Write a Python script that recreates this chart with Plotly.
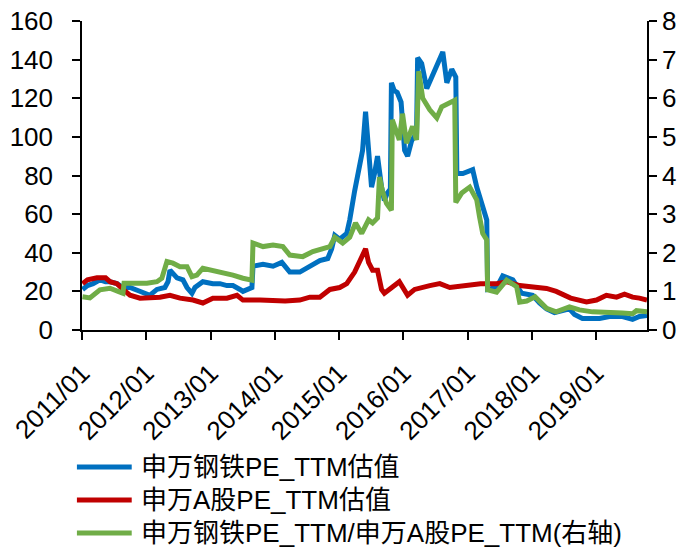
import plotly.graph_objects as go

steel_dates = ["2011-01-04","2011-02-01","2011-03-05","2011-04-13","2011-05-15","2011-06-09","2011-07-19","2011-08-22","2011-10-01","2011-11-27",
"2012-01-05","2012-01-22","2012-03-02","2012-04-16","2012-05-04","2012-05-10","2012-05-15","2012-06-24","2012-07-28","2012-08-20","2012-09-17","2012-10-04","2012-11-18",
"2013-01-14","2013-02-23","2013-04-04","2013-05-08","2013-06-17","2013-07-04","2013-08-24","2013-08-30","2013-10-26","2013-12-22",
"2014-02-10","2014-03-27","2014-05-23","2014-07-19","2014-09-14","2014-10-29","2014-11-20","2014-12-08",
"2015-01-05","2015-02-14","2015-03-03","2015-03-31","2015-04-28","2015-05-15","2015-06-01","2015-06-13","2015-07-05","2015-07-22","2015-08-08","2015-08-31","2015-09-16","2015-10-03","2015-10-20","2015-10-26","2015-11-11","2015-11-28","2015-12-20",
"2016-01-09","2016-01-26","2016-02-18","2016-03-06","2016-03-17","2016-03-23","2016-04-15","2016-05-14","2016-06-17","2016-07-10","2016-08-07","2016-08-13","2016-09-05","2016-10-03","2016-10-26","2016-11-01","2016-12-05",
"2017-01-30","2017-02-22","2017-03-22","2017-04-20","2017-04-25","2017-06-15","2017-07-20","2017-09-15","2017-11-05",
"2018-01-06","2018-02-14","2018-03-26","2018-05-10","2018-06-25","2018-08-03","2018-09-01","2018-10-16","2018-12-12",
"2019-01-21","2019-03-19","2019-06-01","2019-07-28","2019-09-05","2019-10-18"]
steel_pe = [21,23,24,26,25,25,24,22,22,20,
19,18,21,22,25,30,31,27,26,22,19,22,25,
24,24,23,23,21,20,22,33,34,33,
35,30,30,33,36,37,42,49,
47,50,57,72,86,93,113,98,74,81,90,74,67,71,73,128,124,123,118,
93,90,98,100,102,141,138,125,132,136,142,144,128,135,131,81,81,
83,74,66,57,21,22,28,26,19,
18,14,11,9,10,11,8,6,6,
6,7,7,5.5,7,7.5]

market_dates = ["2011-01-04","2011-02-01","2011-03-27","2011-05-15","2011-06-09","2011-07-19","2011-08-22","2011-10-01","2011-11-27",
"2012-01-22","2012-03-19","2012-05-15","2012-07-11","2012-09-23","2012-11-18",
"2013-01-14","2013-04-04","2013-05-31","2013-07-04","2013-10-09","2013-12-22",
"2014-03-01","2014-05-23","2014-07-19","2014-09-14","2014-11-10",
"2015-01-05","2015-02-14","2015-03-31","2015-05-10","2015-06-01","2015-06-18","2015-07-11","2015-08-08","2015-08-31","2015-09-16","2015-10-26","2015-12-10",
"2016-01-26","2016-03-06","2016-05-31","2016-07-27","2016-09-22","2016-12-05",
"2017-03-15","2017-06-15","2017-08-11","2017-10-24",
"2018-01-06","2018-03-26","2018-05-20","2018-08-10","2018-11-08",
"2019-01-04","2019-03-01","2019-04-28","2019-06-12","2019-07-28","2019-09-05","2019-10-18"]
market_pe = [24,26,27,27,25,24,21,18,16.5,
16.5,17,18,16.5,15.5,14,
16.5,16.5,18,15.5,15.5,15,
15,15.5,17,17,21,
22,24,30,37,42,35,31,31,21,19,22,25,
18,21,23,24,22,23,
24,24,25,23,
22,21.5,20,16.5,14.5,
15.5,18,17,18.5,17,16.5,15.5]

ratio_dates = ["2011-01-04","2011-02-15","2011-04-13","2011-06-09","2011-08-05","2011-08-22","2011-08-28","2011-11-09",
"2012-01-05","2012-03-02","2012-03-30","2012-04-28","2012-06-01","2012-07-11","2012-08-20","2012-09-17","2012-10-15","2012-11-18",
"2013-01-14","2013-04-04","2013-05-08","2013-07-04","2013-08-24","2013-08-30","2013-10-26","2013-12-22",
"2014-02-16","2014-03-27","2014-06-09","2014-08-05","2014-10-01","2014-11-10","2014-12-08",
"2015-01-22","2015-03-03","2015-04-05","2015-05-10","2015-06-18","2015-07-11","2015-08-08","2015-08-19","2015-09-05","2015-09-28","2015-10-26","2015-10-31","2015-11-23","2015-12-10","2015-12-28",
"2016-01-20","2016-02-23","2016-03-17","2016-03-29","2016-04-21","2016-05-31","2016-07-10","2016-08-07","2016-09-22","2016-10-20","2016-10-26","2016-11-29",
"2017-01-13","2017-02-22","2017-03-10","2017-03-28","2017-04-20","2017-04-25","2017-06-15","2017-08-11","2017-10-07","2017-10-24","2017-12-03",
"2018-01-20","2018-03-26","2018-05-20","2018-08-03","2018-09-29","2018-12-12",
"2019-02-28","2019-06-01","2019-07-28","2019-08-19","2019-10-18"]
ratio = [0.86,0.83,1.04,1.08,0.98,0.95,1.21,1.21,
1.21,1.25,1.34,1.77,1.73,1.64,1.64,1.38,1.42,1.6,
1.55,1.47,1.42,1.34,1.29,2.25,2.16,2.2,
2.16,1.94,1.9,2.03,2.12,2.16,2.4,
2.25,2.4,2.77,2.5,2.85,2.77,2.9,3.96,3.6,3.28,3.1,5.44,5.18,4.92,5.6,
4.84,5.27,4.92,6.7,6.0,5.7,5.49,5.78,5.9,5.95,3.3,3.55,
3.7,3.37,2.93,2.5,2.33,1.04,0.98,1.29,1.12,0.72,0.75,
0.86,0.56,0.47,0.6,0.52,0.47,
0.47,0.44,0.42,0.5,0.47]

tick_vals = ["2011-01-01","2012-01-01","2013-01-01","2014-01-01","2015-01-01","2016-01-01","2017-01-01","2018-01-01","2019-01-01"]
tick_text = ["2011/01","2012/01","2013/01","2014/01","2015/01","2016/01","2017/01","2018/01","2019/01"]

names = ["申万钢铁PE_TTM估值", "申万A股PE_TTM估值", "申万钢铁PE_TTM/申万A股PE_TTM(右轴)"]
colors = ["#0070C0", "#C00000", "#70AD47"]

FONT = "Liberation Sans, Arial, Noto Sans CJK SC"

fig = go.Figure()
fig.add_trace(go.Scatter(x=steel_dates, y=steel_pe, mode="lines", name=names[0],
                         line=dict(color=colors[0], width=5)))
fig.add_trace(go.Scatter(x=market_dates, y=market_pe, mode="lines", name=names[1],
                         line=dict(color=colors[1], width=5)))
fig.add_trace(go.Scatter(x=ratio_dates, y=ratio, mode="lines", name=names[2],
                         line=dict(color=colors[2], width=5), yaxis="y2"))

# legend below the plot (line sample + text), in paper coordinates
leg_y = [-0.443, -0.550, -0.657]
for name, col, yy in zip(names, colors, leg_y):
    fig.add_shape(type="line", xref="paper", yref="paper", x0=-0.009, x1=0.088,
                  y0=yy, y1=yy, line=dict(color=col, width=5))
    fig.add_annotation(xref="paper", yref="paper", x=0.1, y=yy, text=name,
                       showarrow=False, xanchor="left", yanchor="middle",
                       font=dict(size=26, family=FONT, color="black"))

axis_common = dict(ticks="outside", ticklen=8, tickcolor="black", tickwidth=1.5,
                   showline=True, linecolor="black", linewidth=1.5, showgrid=False,
                   zeroline=False, automargin=False, ticklabeloverflow="allow")

fig.update_layout(
    width=685, height=549,
    margin=dict(l=82, r=38, t=21, b=219),
    paper_bgcolor="white", plot_bgcolor="white",
    font=dict(family=FONT, size=26, color="black"),
    xaxis=dict(type="date", range=["2011-01-01", "2019-10-18"],
               tickmode="array", tickvals=tick_vals, ticktext=tick_text,
               tickangle=-45, tickfont=dict(size=26), ticklabelstandoff=8,
               **axis_common),
    yaxis=dict(range=[0, 160], dtick=20, tickfont=dict(size=26),
               ticklabelstandoff=14, **axis_common),
    yaxis2=dict(range=[0, 8], dtick=1, overlaying="y", side="right",
                tickfont=dict(size=26), **axis_common),
    showlegend=False,
)

# remove the page's default body margin so the figure fills the window exactly
fig.write_html("out.html", config={"displayModeBar": False},
               post_script="document.body.style.margin='0';document.body.style.overflow='hidden';")
